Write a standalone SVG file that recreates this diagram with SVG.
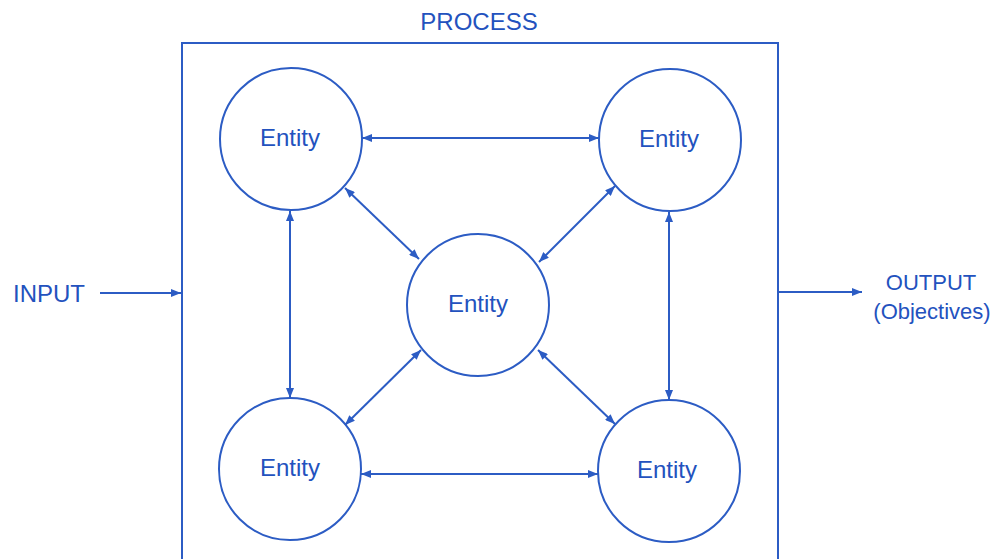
<svg xmlns="http://www.w3.org/2000/svg" width="998" height="559" viewBox="0 0 998 559">
<style>
.ln{stroke:#2c5cc4;stroke-width:2;fill:none}
.nd{stroke:#2c5cc4;stroke-width:2;fill:#fff}
.tx{font-family:"Liberation Sans",Arial,sans-serif;font-size:24px;fill:#2352be;text-anchor:middle}
.sm{font-size:22px}
</style>
<defs>
<marker id="ah" viewBox="0 0 10 8" refX="10" refY="4" markerWidth="11" markerHeight="8" markerUnits="userSpaceOnUse" orient="auto-start-reverse">
<path d="M0,0 L10,4 L0,8 Z" fill="#2c5cc4"/>
</marker>
</defs>
<rect width="998" height="559" fill="#fff"/>
<g id="process">
<path class="ln" d="M182,562 V43 H778 V562"/>
<text class="tx" x="479" y="30">PROCESS</text>
</g>
<g id="input"><text class="tx" x="49" y="302">INPUT</text></g>
<g id="output"><text class="tx sm" x="931" y="290">OUTPUT</text><text class="tx sm" x="932" y="319">(Objectives)</text></g>
<g id="e1"><circle class="nd" cx="291" cy="139" r="71"/><text class="tx" x="290" y="146">Entity</text></g>
<g id="e2"><circle class="nd" cx="670" cy="140" r="71"/><text class="tx" x="669" y="147">Entity</text></g>
<g id="e3"><circle class="nd" cx="478" cy="305" r="71"/><text class="tx" x="478" y="312">Entity</text></g>
<g id="e4"><circle class="nd" cx="290" cy="469" r="71"/><text class="tx" x="290" y="476">Entity</text></g>
<g id="e5"><circle class="nd" cx="669" cy="471" r="71"/><text class="tx" x="667" y="478">Entity</text></g>
<g id="connectors">
<line class="ln" x1="100" y1="293" x2="181" y2="293" marker-end="url(#ah)"/>
<line class="ln" x1="779" y1="292" x2="862" y2="292" marker-end="url(#ah)"/>
<line class="ln" x1="362" y1="138" x2="599" y2="138" marker-start="url(#ah)" marker-end="url(#ah)"/>
<line class="ln" x1="361" y1="474" x2="598" y2="474" marker-start="url(#ah)" marker-end="url(#ah)"/>
<line class="ln" x1="290" y1="211" x2="290" y2="398" marker-start="url(#ah)" marker-end="url(#ah)"/>
<line class="ln" x1="669" y1="212" x2="669" y2="400" marker-start="url(#ah)" marker-end="url(#ah)"/>
<line class="ln" x1="345" y1="188" x2="419" y2="259" marker-start="url(#ah)" marker-end="url(#ah)"/>
<line class="ln" x1="615" y1="186" x2="539" y2="262" marker-start="url(#ah)" marker-end="url(#ah)"/>
<line class="ln" x1="421" y1="350" x2="345" y2="425" marker-start="url(#ah)" marker-end="url(#ah)"/>
<line class="ln" x1="538" y1="350" x2="615" y2="424" marker-start="url(#ah)" marker-end="url(#ah)"/>
</g>
</svg>
